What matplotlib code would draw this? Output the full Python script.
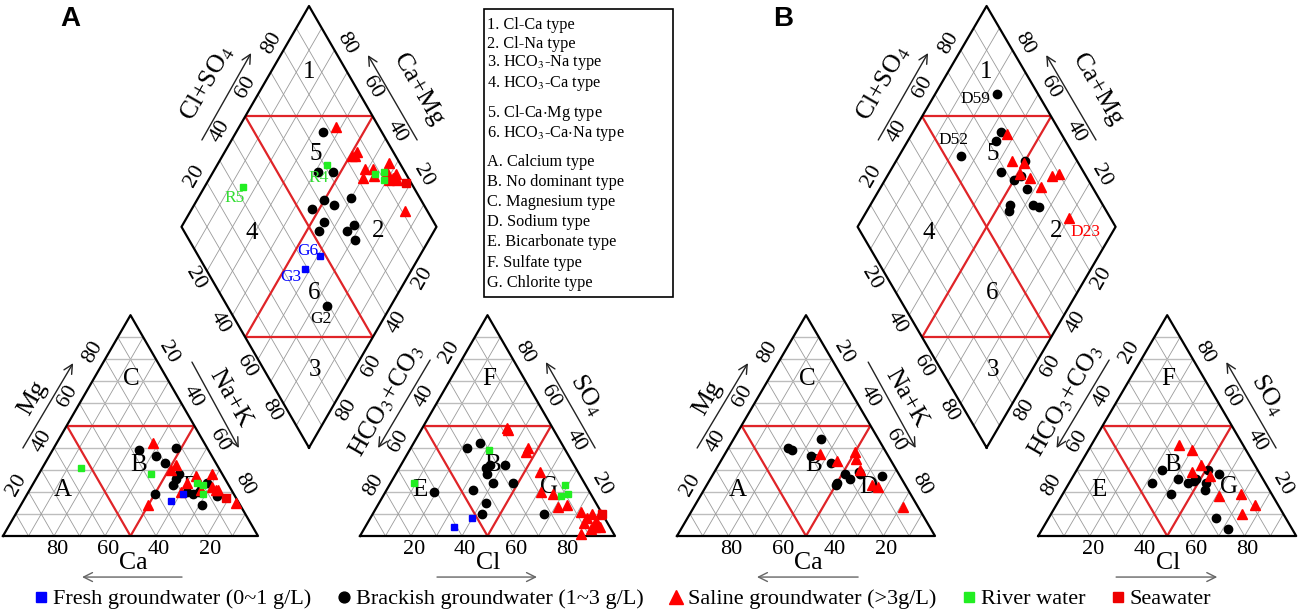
import matplotlib
matplotlib.use("Agg")
import matplotlib.pyplot as plt
from matplotlib.lines import Line2D
from matplotlib.patches import Rectangle
import numpy as np

plt.rcParams['font.family'] = ['Liberation Serif', 'DejaVu Serif']
plt.rcParams['mathtext.fontset'] = 'stix'

# ---- data (percent) ----
# cation triangle: (Mg, Na+K), Ca is the rest
A_cat_fresh = [(16, 58), (19, 61)]
A_cat_brackish = [(39, 34), (40, 48), (36, 42), (33, 47), (28, 55), (26, 55), (23, 55), (20, 62),
                  (19, 65), (24, 68), (20, 67), (18, 75), (14, 71), (19, 50)]
A_cat_saline = [(42, 38), (32, 52), (30, 51), (24, 60), (27, 62), (28, 68), (20, 60), (21, 74),
                (22, 71), (15, 84), (14, 50), (21, 67), (21, 73)]
A_cat_river = [(31, 15), (28, 44), (24, 64), (23, 67), (19, 69)]
A_cat_sea = [(17, 79)]

# anion triangle: (SO4, Cl), HCO3+CO3 is the rest
A_an_fresh = [(8, 40), (4, 35)]
A_an_brackish = [(40, 22), (42, 26), (31, 34), (32, 35), (28, 36), (32, 41), (24, 40), (24, 48),
                 (21, 34), (20, 19), (15, 42), (10, 43), (10, 67)]
A_an_saline = [(49, 33), (48, 34), (40, 46), (38, 46), (29, 56), (20, 61), (19, 66), (14, 74),
               (13, 71), (11, 81), (8, 85), (10, 86), (10, 89), (7, 89), (6, 85), (4, 90), (4, 92),
               (1, 86), (3, 89)]
A_an_river = [(39, 31), (24, 9), (23, 69), (19, 72), (18, 70)]
A_an_sea = [(10, 90)]

# diamond: (Cl+SO4, Ca+Mg)
A_dia_fresh = [(48, 39), (39, 42)]
A_dia_fresh_names = ['G6', 'G3']
A_dia_brackish = [(77, 66), (66, 59), (72, 53), (62, 50), (65, 45), (73, 40), (55, 53), (57, 45),
                  (53, 45), (64, 34), (68, 33), (65, 29), (39, 25)]
A_dia_brackish_names = [''] * 12 + ['G2']
A_dia_saline = [(83, 62), (83, 49), (86, 48), (84, 48), (82, 40), (85, 41), (88, 38), (87, 36),
                (96, 33), (93, 32), (94, 28), (96, 28), (95, 26), (92, 29), (91, 16)]
A_dia_river = [(33, 85), (71, 57), (88, 36), (92, 33), (90, 31)]
A_dia_river_names = ['R5', 'R4', '', '', '']
A_dia_sea = [(98, 22)]

B_cat_brackish = [(40, 23), (39, 25), (44, 34), (36, 34), (33, 43), (28, 51), (26, 54), (24, 50),
                  (23, 50), (29, 56), (28, 57), (27, 66)]
B_cat_saline = [(37, 37), (34, 45), (38, 50), (35, 52), (30, 56), (23, 64), (22, 67), (13, 81)]
B_an_brackish = [(30, 33), (24, 32), (26, 41), (19, 42), (24, 46), (25, 48), (26, 48), (30, 51),
                 (24, 53), (21, 54), (28, 56), (8, 65), (3, 72)]
B_an_saline = [(41, 34), (39, 40), (32, 47), (29, 45), (27, 53), (18, 61), (19, 69), (14, 77), (10, 74)]
B_dia_brackish = [(84, 76), (56, 76), (77, 66), (73, 66), (80, 50), (68, 57), (75, 48), (71, 50),
                  (74, 43), (64, 46), (62, 45), (73, 37), (75, 34)]
B_dia_brackish_names = ['D59', 'D52'] + [''] * 11
B_dia_saline = [(79, 63), (75, 55), (79, 50), (75, 49), (78, 44), (80, 38), (87, 36), (90, 34), (84, 20)]
B_dia_saline_names = [''] * 8 + ['D23']

legend_types = ["1. Cl-Ca type", "2. Cl-Na type", "3. HCO$_3$-Na type", "4. HCO$_3$-Ca type",
                "5. Cl-Ca$\\cdot$Mg type", "6. HCO$_3$-Ca$\\cdot$Na type", "A. Calcium type",
                "B. No dominant type", "C. Magnesium type", "D. Sodium type", "E. Bicarbonate type",
                "F. Sulfate type", "G. Chlorite type"]
series_labels = ["Fresh groundwater (0~1 g/L)", "Brackish groundwater (1~3 g/L)",
                 "Saline groundwater (>3g/L)", "River water", "Seawater"]

# ---- geometry ----
H = np.sqrt(3) / 2
GAP = 0.4
panels = {'A': (3, 536, 255, 255), 'B': (677, 536, 258, 255)}

styles = {
    'fresh': dict(marker='s', color='#0000ff', ms=5),
    'brackish': dict(marker='o', color='black', ms=6),
    'saline': dict(marker='^', color='#ff0000', ms=7.5),
    'river': dict(marker='s', color='#22ee22', ms=5),
    'sea': dict(marker='s', color='#ee0000', ms=5.5),
}
RED = '#e02428'


def to_px(p, X, Y):
    x0, y0, sx, sy = panels[p]
    return x0 + np.asarray(X, float) * sx, y0 - np.asarray(Y, float) * sy


def cat_xy(p, mg, nak):
    m, n = np.asarray(mg) / 100, np.asarray(nak) / 100
    return to_px(p, n + m / 2, m * H)


def an_xy(p, so4, cl):
    s, c = np.asarray(so4) / 100, np.asarray(cl) / 100
    return to_px(p, 1 + GAP + c + s / 2, s * H)


def dia_xy(p, clso4, camg):
    a, b = np.asarray(clso4) / 100, np.asarray(camg) / 100
    return to_px(p, 1 + GAP / 2 + (a - b) / 2, GAP * H + (a + b) * H)


def seg(ax, f, p, p1, p2, **kw):
    x1, y1 = f(p, *p1)
    x2, y2 = f(p, *p2)
    ax.plot([x1, x2], [y1, y2], solid_capstyle='butt', **kw)


fig = plt.figure(figsize=(12.99, 6.13), dpi=100)
ax = fig.add_axes([0, 0, 1, 1])
ax.set_xlim(0, 1299)
ax.set_ylim(613, 0)
ax.axis('off')

grid = dict(color='#9a9a9a', lw=0.6, zorder=1)
hgrid = dict(color='#bdbdbd', lw=1.0, zorder=1)
red = dict(color=RED, lw=1.6, zorder=2)
edge = dict(color='black', lw=1.6, zorder=3)
tick_kw = dict(fontsize=16, ha='center', va='center', rotation_mode='anchor')
NL = (-12, -7)
NR = (12, -7)


def tick(x, y, off, rot, v):
    ax.text(x + off[0], y + off[1], str(v), rotation=rot, **tick_kw)


def draw_frame(p):
    for k in range(1, 10):
        t = k * 10
        # cation triangle
        seg(ax, cat_xy, p, (t, 0), (t, 100 - t), **hgrid)
        seg(ax, cat_xy, p, (0, t), (100 - t, t), **grid)
        seg(ax, cat_xy, p, (0, 100 - t), (100 - t, 0), **grid)
        # anion triangle
        seg(ax, an_xy, p, (t, 0), (t, 100 - t), **hgrid)
        seg(ax, an_xy, p, (0, t), (100 - t, t), **grid)
        seg(ax, an_xy, p, (100 - t, 0), (0, 100 - t), **grid)
        # diamond
        seg(ax, dia_xy, p, (t, 0), (t, 100), **grid)
        seg(ax, dia_xy, p, (0, t), (100, t), **grid)
    # red classification lines
    for f in (cat_xy, an_xy):
        seg(ax, f, p, (50, 0), (50, 50), **red)
        seg(ax, f, p, (50, 0), (0, 50), **red)
        seg(ax, f, p, (50, 50), (0, 50), **red)
    seg(ax, dia_xy, p, (50, 100), (100, 50), **red)
    seg(ax, dia_xy, p, (0, 50), (50, 0), **red)
    seg(ax, dia_xy, p, (50, 0), (50, 100), **red)
    seg(ax, dia_xy, p, (0, 50), (100, 50), **red)
    # outlines
    for f in (cat_xy, an_xy):
        x, y = f(p, [0, 0, 100, 0], [0, 100, 0, 0])
        ax.plot(x, y, **edge)
    x, y = dia_xy(p, [0, 0, 100, 100, 0], [0, 100, 100, 0, 0])
    ax.plot(x, y, **edge)
    # tick labels
    for v in (20, 40, 60, 80):
        tick(*cat_xy(p, v, 0), NL, 60, v)
        tick(*cat_xy(p, 100 - v, v), NR, -60, v)
        tick(*cat_xy(p, 0, 100 - v), (3, 13), 0, v)
        tick(*an_xy(p, 100 - v, 0), NL, 60, v)
        tick(*an_xy(p, v, 100 - v), NR, -60, v)
        tick(*an_xy(p, 0, v), (3, 13), 0, v)
        tick(*dia_xy(p, v, 100), NL, 60, v)
        tick(*dia_xy(p, 100, v), NR, -60, v)
        tick(*dia_xy(p, 0, 100 - v), (-12, 7), -60, v)
        tick(*dia_xy(p, 100 - v, 0), (12, 7), 60, v)
    # region labels
    reg = dict(fontsize=18, ha='center', va='center', zorder=2.5)
    for txt, (a, b) in zip('152463', [(85, 85), (69, 64), (76, 22), (26, 71), (37, 33), (20, 15)]):
        ax.text(*dia_xy(p, a, b), txt, **reg)
    for txt, (m, n) in zip('CABD', [(71, 15), (21, 13), (32, 37), (22, 63)]):
        ax.text(*cat_xy(p, m, n), txt, **reg)
    for txt, (s, c) in zip('FEBG', [(71, 15), (21, 13), (32, 36), (22, 63)]):
        ax.text(*an_xy(p, s, c), txt, **reg)
    # axis titles with arrows
    titles = [("Mg", (0.118, 0.541), 60, (0.078, 0.345), (0.275, 0.678)),
              ("Na+K", (0.89, 0.541), -60, (0.741, 0.682), (0.925, 0.345)),
              ("Ca", (0.51, -0.106), 0, (0.702, -0.161), (0.31, -0.161)),
              ("HCO$_3$+CO$_3$", (1.506, 0.533), 60, (1.675, 0.69), (1.471, 0.345)),
              ("SO$_4$", (2.29, 0.553), -60, (2.322, 0.345), (2.129, 0.682)),
              ("Cl", (1.902, -0.106), 0, (1.702, -0.161), (2.094, -0.161)),
              ("Cl+SO$_4$", (0.8, 1.776), 60, (0.78, 1.553), (0.973, 1.894)),
              ("Ca+Mg", (1.627, 1.749), -60, (1.624, 1.553), (1.431, 1.886))]
    for txt, pos, rot, a0, a1 in titles:
        ax.text(*to_px(p, *pos), txt, fontsize=18.5, rotation=rot, ha='center', va='center',
                rotation_mode='anchor')
        col = '#666666' if rot == 0 else '#222222'
        ax.annotate('', xy=to_px(p, *a1), xytext=to_px(p, *a0),
                    arrowprops=dict(arrowstyle='->', color=col, lw=1.0, shrinkA=0, shrinkB=0,
                                    mutation_scale=16))


def draw_points(p, f, pts, kind, names=None, label_offsets=None):
    if not pts:
        return
    arr = np.array(pts)
    x, y = f(p, arr[:, 0], arr[:, 1])
    ax.plot(x, y, ls='none', zorder=4, **styles[kind])
    if names:
        for xi, yi, nm in zip(x, y, names):
            if nm:
                ax.annotate(nm, (xi, yi), xytext=label_offsets[nm], textcoords='offset pixels',
                            ha='center', va='center', fontsize=12.5, color=label_colors[kind],
                            zorder=5)


label_colors = {'fresh': '#0000ff', 'brackish': 'black', 'saline': '#ff0000', 'river': '#33dd33'}
offsets = {'R5': (-8, -11), 'R4': (-8, -13), 'G6': (-13, 5), 'G3': (-14, -8), 'G2': (-6, -13),
           'D59': (-22, -5), 'D52': (-7, 16), 'D23': (16, -14)}

for p in ('A', 'B'):
    draw_frame(p)

draw_points('A', cat_xy, A_cat_brackish, 'brackish')
draw_points('A', cat_xy, A_cat_saline, 'saline')
draw_points('A', cat_xy, A_cat_river, 'river')
draw_points('A', cat_xy, A_cat_fresh, 'fresh')
draw_points('A', cat_xy, A_cat_sea, 'sea')
draw_points('A', an_xy, A_an_brackish, 'brackish')
draw_points('A', an_xy, A_an_saline, 'saline')
draw_points('A', an_xy, A_an_river, 'river')
draw_points('A', an_xy, A_an_fresh, 'fresh')
draw_points('A', an_xy, A_an_sea, 'sea')
draw_points('A', dia_xy, A_dia_brackish, 'brackish', A_dia_brackish_names, offsets)
draw_points('A', dia_xy, A_dia_saline, 'saline')
draw_points('A', dia_xy, A_dia_river, 'river', A_dia_river_names, offsets)
draw_points('A', dia_xy, A_dia_fresh, 'fresh', A_dia_fresh_names, offsets)
draw_points('A', dia_xy, A_dia_sea, 'sea')

draw_points('B', cat_xy, B_cat_brackish, 'brackish')
draw_points('B', cat_xy, B_cat_saline, 'saline')
draw_points('B', an_xy, B_an_brackish, 'brackish')
draw_points('B', an_xy, B_an_saline, 'saline')
draw_points('B', dia_xy, B_dia_brackish, 'brackish', B_dia_brackish_names, offsets)
draw_points('B', dia_xy, B_dia_saline, 'saline', B_dia_saline_names, offsets)

# panel letters
ax.text(70, 19, 'A', fontsize=20, fontweight='bold', family='Liberation Sans', ha='center', va='center')
ax.text(783, 19, 'B', fontsize=20, fontweight='bold', family='Liberation Sans', ha='center', va='center')

# type legend box
ax.add_patch(Rectangle((484, 9), 189, 288, fill=False, ec='black', lw=1.2, zorder=3))
baselines = [29, 48, 66, 87, 117, 137, 166, 186, 206, 226, 246, 267, 287]
for txt, yb in zip(legend_types, baselines):
    ax.text(487, yb, txt, fontsize=11.7, ha='left', va='baseline')

# series legend
handles = [Line2D([], [], ls='none', **styles[k]) for k in ('fresh', 'brackish', 'saline', 'river', 'sea')]
for h in handles:
    h.set_markersize(h.get_markersize() * 1.3)
fig.legend(handles, series_labels, loc='center', bbox_to_anchor=(0.48, 0.0228), ncol=5,
           frameon=False, prop={'size': 16}, handlelength=0.5, handletextpad=0.3,
           columnspacing=1.2, borderpad=0)

fig.savefig('out.png', dpi=100)
